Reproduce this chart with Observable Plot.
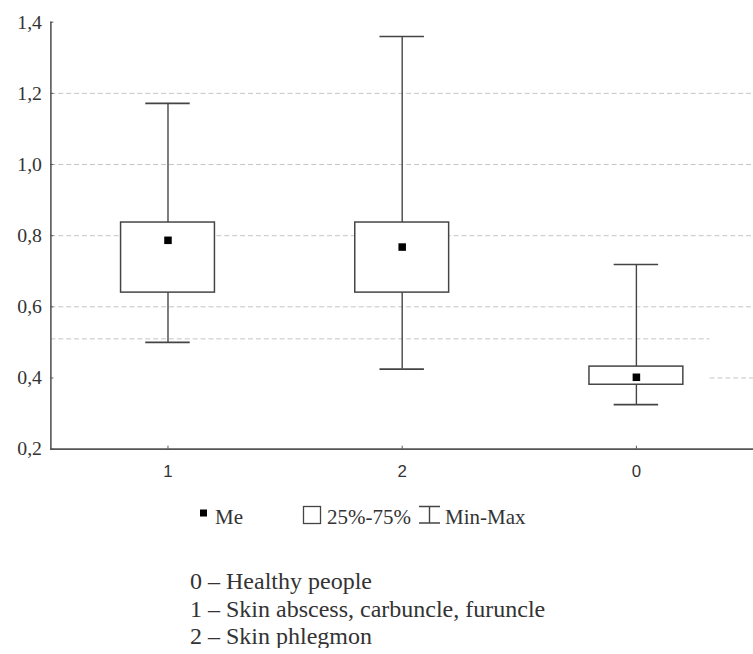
<!DOCTYPE html>
<html>
<head>
<meta charset="utf-8">
<script src="https://cdn.jsdelivr.net/npm/d3@7"></script>
<script src="https://cdn.jsdelivr.net/npm/@observablehq/plot@0.6"></script>
<style>
  html, body { margin: 0; padding: 0; background: #fff; overflow: hidden; }
  #wrap { width: 753px; height: 654px; overflow: hidden; position: relative; }
  #wrap svg { display: block; }
  .ytick text { font-family: 'Liberation Serif', 'Times New Roman', serif !important; font-size: 20px !important; }
  .xtick text { font-family: 'Liberation Sans', Arial, sans-serif !important; font-size: 17px !important; }
</style>
</head>
<body>
<div id="wrap"></div>
<script>
// ---- data ----
const groups  = ["1", "2", "0"];
const mins    = [0.500, 0.425, 0.325];
const q1s     = [0.640, 0.640, 0.381];
const medians = [0.787, 0.768, 0.402];
const q3s     = [0.837, 0.837, 0.432];
const maxs    = [1.172, 1.360, 0.719];
const yTicks  = [0.2, 0.4, 0.6, 0.8, 1.0, 1.2, 1.4];
const gridFull  = [0.6, 0.8, 1.0, 1.2];
const gridExtra = [0.51];
const gridLow   = [0.4];
const legendLabels = ["Me", "25%-75%", "Min-Max"];
const captionLines = [
  "0 \u2013 Healthy people",
  "1 \u2013 Skin abscess, carbuncle, furuncle",
  "2 \u2013 Skin phlegmon"
];

const data = groups.map((g, i) => ({
  group: g, min: mins[i], q1: q1s[i], median: medians[i], q3: q3s[i], max: maxs[i]
}));

const fmt = d => d.toFixed(1).replace(".", ",");
const ink = "#444";
const serif = "'Liberation Serif', 'Times New Roman', serif";
const sans = "'Liberation Sans', Arial, sans-serif";
const gridStyle = {stroke: "#c4c4c4", strokeWidth: 1, strokeDasharray: "5,3"};

const chart = Plot.plot({
  width: 762,
  height: 492,
  marginLeft: 51,
  marginRight: 0,
  marginTop: 22,
  marginBottom: 38,
  style: {fontFamily: serif, background: "white", overflow: "visible"},
  x: {type: "band", domain: groups, padding: 0, label: null, axis: null},
  y: {domain: [0.2, 1.4], label: null, axis: null},
  marks: [
    Plot.ruleY(gridFull, gridStyle),
    Plot.ruleY(gridExtra, {...gridStyle, insetRight: 44}),
    Plot.ruleY(gridLow, {...gridStyle, insetLeft: 667}),
    Plot.ruleX(data, {x: "group", y1: "min", y2: "max", stroke: ink, strokeWidth: 1.4}),
    Plot.tickY(data, {x: "group", y: "min", insetLeft: 96, insetRight: 96, stroke: ink, strokeWidth: 1.6}),
    Plot.tickY(data, {x: "group", y: "max", insetLeft: 96, insetRight: 96, stroke: ink, strokeWidth: 1.6}),
    Plot.barY(data, {x: "group", y1: "q1", y2: "q3", fill: "white", stroke: ink, strokeWidth: 1.5, insetLeft: 71, insetRight: 71}),
    Plot.dot(data, {x: "group", y: "median", symbol: "square", r: 4.3, fill: "black", stroke: "none"}),
    Plot.frame({anchor: "left", stroke: "#555", strokeWidth: 1.6}),
    Plot.frame({anchor: "bottom", stroke: "#555", strokeWidth: 1.6}),
    // y tick labels and inward tick marks
    Plot.text(yTicks, {y: d => d, frameAnchor: "left", dx: -9, textAnchor: "end", text: fmt,
      fontSize: 20, fontFamily: serif, fill: "#333", className: "ytick"}),
    Plot.axisY(yTicks, {tickSize: -3, tickFormat: () => "", stroke: "#555"}),
    // x tick labels and inward tick marks
    Plot.text(groups, {x: d => d, frameAnchor: "bottom", dy: 16, lineAnchor: "top", text: d => d,
      fontSize: 17, fontFamily: sans, fill: "#333", className: "xtick"}),
    Plot.axisX({tickSize: -3, tickFormat: () => "", stroke: "#555"})
  ]
});
const wrap = document.getElementById("wrap");
wrap.appendChild(chart);

// ---- legend + caption below the chart ----
const top0 = 492;
const svg = d3.select(wrap).append("svg")
  .attr("width", 753).attr("height", 654 - top0)
  .style("font-family", serif);
const g = svg.append("g").attr("transform", `translate(0,${-top0})`);

// median symbol
g.append("rect").attr("x", 200).attr("y", 515.5).attr("width", 7).attr("height", 7).attr("fill", "black");
g.append("text").attr("x", 215).attr("y", 530).attr("font-size", 21).attr("fill", "#333").text(legendLabels[0]);
// box symbol
g.append("rect").attr("x", 303.5).attr("y", 512.5).attr("width", 17).attr("height", 17)
  .attr("fill", "white").attr("stroke", ink).attr("stroke-width", 1.3);
g.append("text").attr("x", 327).attr("y", 530).attr("font-size", 21).attr("fill", "#333").text(legendLabels[1]);
// min-max symbol
g.append("path").attr("d", "M419,512.5H440M429.5,512.5V529M419,529H440")
  .attr("fill", "none").attr("stroke", ink).attr("stroke-width", 1.4);
g.append("text").attr("x", 445).attr("y", 530).attr("font-size", 21).attr("fill", "#333").text(legendLabels[2]);

// caption lines
captionLines.forEach((t, i) => {
  g.append("text").attr("x", 190).attr("y", 595 + i * 27.5).attr("font-size", 24).attr("fill", "#333").text(t);
});
</script>
</body>
</html>
